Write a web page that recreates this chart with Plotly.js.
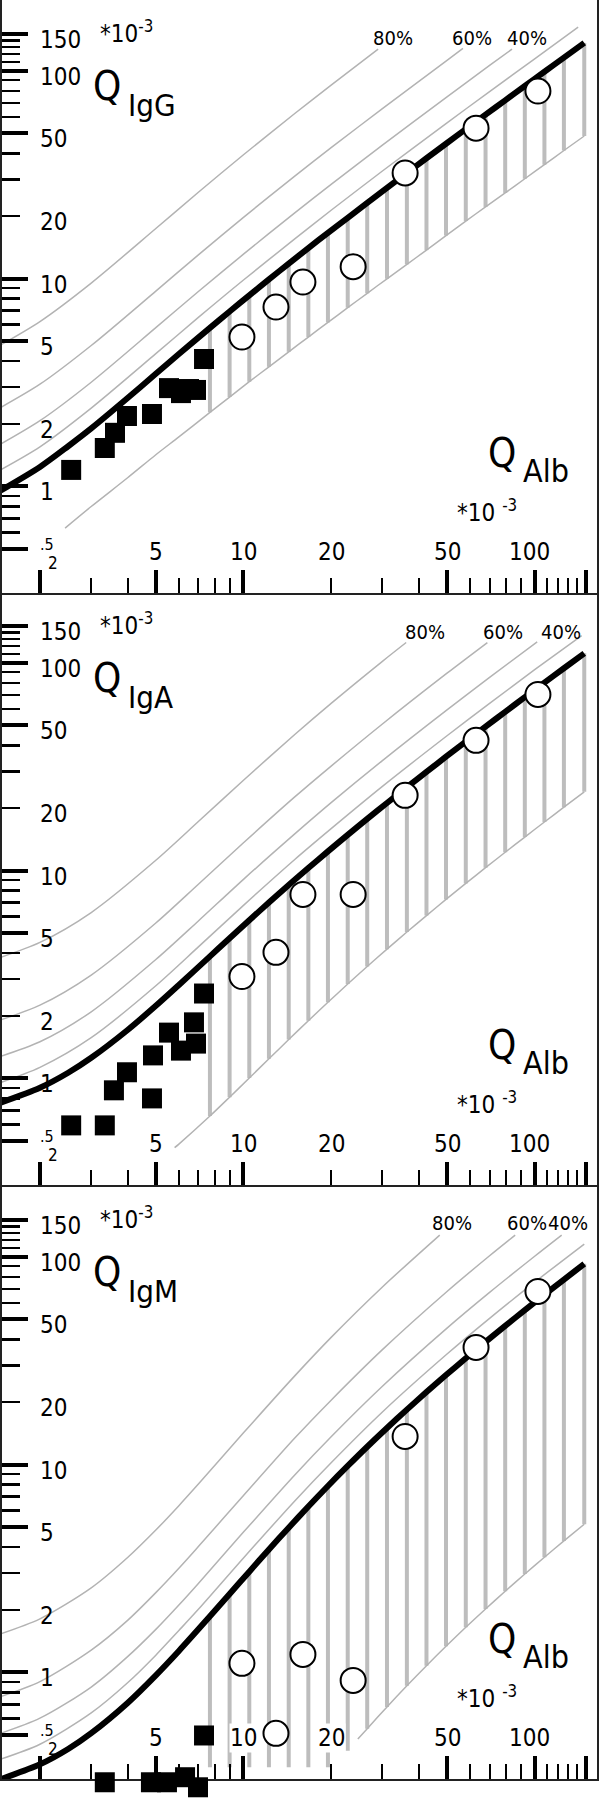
<!DOCTYPE html>
<html lang="en">
<head>
<meta charset="UTF-8">
<title>Reibergram IgG / IgA / IgM</title>
<script src="https://cdn.plot.ly/plotly-3.0.1.min.js"></script>
<style>
  html, body { margin: 0; padding: 0; background: #fff; }
  #graph { width: 600px; height: 1798px; }
</style>
</head>
<body>
<div id="graph"></div>
<script>
// QAlb values (x 10^-3) where the limit curves are read; from index 7 on they are the hatch positions
var qAlb = [1.4, 2, 2.5, 3, 4, 5, 6, 7.67, 8.96, 10.47, 12.23, 14.3, 16.7, 19.5, 22.8, 26.6, 31.1, 36.4, 42.5, 49.6, 58.0, 67.8, 79.2, 92.5, 108, 126, 148];
var hatchFrom = 7;

// ---- IgG ----
var iggLimit = [0.92, 1.24, 1.56, 1.90, 2.66, 3.48, 4.33, 5.79, 6.94, 8.30, 9.90, 11.8, 14.0, 16.6, 19.6, 23.1, 27.3, 32.2, 37.9, 44.5, 52.3, 61.4, 72.0, 84.4, 98.8, 115.5, 136];
var iggLowQ = [2.44, 3, 4, 5, 6, 7.67, 8.96, 10.47, 12.23, 14.3, 16.7, 19.5, 22.8, 26.6, 31.1, 36.4, 42.5, 49.6, 58.0, 67.8, 79.2, 92.5, 108, 126, 148];
var iggLow = [0.63, 0.80, 1.10, 1.42, 1.73, 2.27, 2.69, 3.19, 3.76, 4.44, 5.23, 6.15, 7.24, 8.49, 9.97, 11.7, 13.7, 16.1, 18.9, 22.1, 25.8, 30.2, 35.3, 41.3, 48.5];
var igg80Q = [1.4, 2, 3, 5, 7, 10, 15, 20, 29];
var igg80 = [4.62, 6.21, 9.51, 17.4, 26.0, 39.4, 62.2, 85.2, 127];
var igg60Q = [1.4, 2, 3, 5, 7, 10, 15, 20, 30, 50, 56.7];
var igg60 = [2.31, 3.10, 4.76, 8.70, 13.0, 19.7, 31.1, 42.6, 65.7, 112, 128];
var igg40Q = [1.4, 2, 3, 5, 7, 10, 15, 20, 30, 50, 70, 83.6];
var igg40 = [1.54, 2.07, 3.17, 5.80, 8.66, 13.1, 20.7, 28.4, 43.8, 74.8, 106, 127];
var igg20Q = [1.4, 2, 3, 5, 7, 10, 15, 20, 30, 50, 70, 100, 141];
var igg20 = [1.16, 1.55, 2.38, 4.35, 6.50, 9.84, 15.5, 21.3, 32.9, 56.1, 79.3, 114, 162];

// ---- IgA ----
var igaLimit = [0.747, 0.901, 1.064, 1.256, 1.709, 2.235, 2.815, 3.865, 4.725, 5.767, 7.016, 8.514, 10.28, 12.36, 14.84, 17.71, 21.13, 25.17, 29.83, 35.27, 41.71, 49.24, 58.00, 68.22, 80.14, 93.99, 110.9];
var igaLowQ = [5.8, 6, 7.67, 8.96, 10.47, 12.23, 14.3, 16.7, 19.5, 22.8, 26.6, 31.1, 36.4, 42.5, 49.6, 58.0, 67.8, 79.2, 92.5, 108, 126, 148];
var igaLow = [0.464, 0.483, 0.659, 0.812, 1.004, 1.242, 1.537, 1.894, 2.323, 2.843, 3.453, 4.186, 5.058, 6.071, 7.258, 8.668, 10.32, 12.24, 14.49, 17.12, 20.17, 23.90];
var iga80Q = [1.4, 2, 3, 5, 7, 10, 15, 20, 30, 36.2];
var iga80 = [3.74, 4.51, 6.28, 11.2, 17.2, 27.2, 45.1, 63.7, 101.5, 125];
var iga60Q = [1.4, 2, 3, 5, 7, 10, 15, 20, 30, 50, 68.8];
var iga60 = [1.87, 2.25, 3.14, 5.59, 8.59, 13.6, 22.6, 31.8, 50.7, 89.0, 125];
var iga40Q = [1.4, 2, 3, 5, 7, 10, 15, 20, 30, 50, 70, 102];
var iga40 = [1.25, 1.50, 2.09, 3.73, 5.72, 9.07, 15.0, 21.2, 33.8, 59.3, 84.9, 126];
var iga20Q = [1.4, 2, 3, 5, 7, 10, 15, 20, 30, 50, 70, 100, 145];
var iga20 = [0.934, 1.13, 1.57, 2.79, 4.29, 6.80, 11.3, 15.9, 25.4, 44.5, 63.7, 92.5, 135];

// ---- IgM ----
var igmLimit = [0.299, 0.361, 0.428, 0.510, 0.713, 0.968, 1.268, 1.860, 2.382, 3.052, 3.901, 4.969, 6.281, 7.885, 9.847, 12.18, 14.99, 18.37, 22.31, 26.93, 32.45, 38.92, 46.47, 55.31, 65.63, 77.64, 92.33];
var igmLowQ = [24.7, 26.6, 31.1, 36.4, 42.5, 49.6, 58.0, 67.8, 79.2, 92.5, 108, 126, 148];
var igmLow = [0.478, 0.536, 0.682, 0.862, 1.077, 1.335, 1.648, 2.019, 2.458, 2.974, 3.581, 4.290, 5.160];
var igmHatchLow = [0.35, 0.35, 0.35, 0.35, 0.35, 0.35, 0.35, 0.42, 0.536, 0.682, 0.862, 1.077, 1.335, 1.648, 2.019, 2.458, 2.974, 3.581, 4.290, 5.160];
var igm80Q = [1.4, 2, 3, 4, 5, 6, 7, 10, 15, 20, 30, 47.2];
var igm80 = [1.50, 1.81, 2.55, 3.57, 4.84, 6.34, 8.05, 14.2, 26.7, 40.9, 71.5, 127];
var igm60Q = [1.4, 2, 3, 4, 5, 6, 7, 10, 15, 20, 30, 50, 70, 85.7];
var igm60 = [0.748, 0.903, 1.28, 1.78, 2.42, 3.17, 4.03, 7.09, 13.4, 20.4, 35.7, 68.0, 101, 127];
var igm40Q = [1.4, 2, 3, 4, 5, 6, 7, 10, 15, 20, 30, 50, 70, 100, 123.8];
var igm40 = [0.498, 0.602, 0.850, 1.19, 1.61, 2.11, 2.68, 4.73, 8.91, 13.6, 23.8, 45.3, 67.3, 100.5, 127];
var igm20Q = [1.4, 2, 3, 4, 5, 6, 7, 10, 15, 20, 30, 50, 70, 100, 148];
var igm20 = [0.374, 0.451, 0.638, 0.891, 1.21, 1.59, 2.01, 3.55, 6.68, 10.2, 17.9, 34.0, 50.5, 75.4, 115];

// ---- patients ----
var sqIggQ = [2.56, 3.34, 3.62, 3.98, 4.85, 5.55, 6.10, 6.50, 6.87, 7.32];
var sqIgg = [1.20, 1.53, 1.81, 2.18, 2.23, 2.97, 2.81, 2.94, 2.91, 4.10];
var sqIgaQ = [2.56, 3.34, 3.59, 3.98, 4.85, 4.89, 5.55, 6.10, 6.76, 6.87, 7.32];
var sqIga = [0.594, 0.594, 0.876, 1.07, 0.801, 1.29, 1.66, 1.36, 1.86, 1.47, 2.56];
// IgM below the plotted range hang under the axis line
var sqIgmQ = [3.34, 4.81, 5.46, 6.30, 6.98, 7.32];
var sqIgm = [0.296, 0.296, 0.296, 0.313, 0.280, 0.497];

var circQ = [9.88, 12.93, 16.0, 23.8, 35.9, 62.9, 102.6];
var circIgg = [5.23, 7.29, 9.62, 11.4, 32.2, 52.9, 79.8];
var circIga = [3.09, 4.04, 7.67, 7.67, 23.0, 42.3, 70.3];
var circIgm = [1.105, 0.509, 1.22, 0.915, 13.65, 36.6, 68.0];

// ---- axes ticks / labels ----
var xMajor = [2, 5, 10, 50, 100, 150];
var xMinor = [3, 4, 6, 7, 8, 9, 20, 30, 40, 60, 70, 80, 90, 110, 120, 130, 140];
var yMajor = [0.5, 1, 5, 10, 50, 100, 150];
var yMinor = [0.6, 0.7, 0.8, 0.9, 2, 3, 4, 6, 7, 8, 9, 20, 30, 40, 60, 70, 80, 90, 110, 120, 130, 140];
var yLabels = [150, 100, 50, 20, 10, 5, 2, 1];
var xLabels = [5, 10, 20, 50, 100];
var pctText = ['80%', '60%', '40%'];

var panels = [
  {lim: iggLimit, lowQ: iggLowQ, low: iggLow, hatchLow: iggLow.slice(5),
   pct: [[igg80Q, igg80], [igg60Q, igg60], [igg40Q, igg40], [igg20Q, igg20]],
   sqQ: sqIggQ, sq: sqIgg, circ: circIgg, sub: 'IgG', pctX: [393, 472, 527], pctY: 38},
  {lim: igaLimit, lowQ: igaLowQ, low: igaLow, hatchLow: igaLow.slice(2),
   pct: [[iga80Q, iga80], [iga60Q, iga60], [iga40Q, iga40], [iga20Q, iga20]],
   sqQ: sqIgaQ, sq: sqIga, circ: circIga, sub: 'IgA', pctX: [425, 503, 561], pctY: 40},
  {lim: igmLimit, lowQ: igmLowQ, low: igmLow, hatchLow: igmHatchLow,
   pct: [[igm80Q, igm80], [igm60Q, igm60], [igm40Q, igm40], [igm20Q, igm20]],
   sqQ: sqIgmQ, sq: sqIgm, circ: circIgm, sub: 'IgM', pctX: [452, 527, 568], pctY: 37}
];

var W = 600, H = 1798;
var panelTop = [0, 592, 1186];
var panelH = 593;
var yRange = [-0.513, 2.340];
var pxPerDecade = panelH / (yRange[1] - yRange[0]);
var FONT = 'DejaVu Sans Condensed, DejaVu Sans, sans-serif';
var GRAY = '#b3b3b3';

function py(p, y) { return 1 - (panelTop[p] + y) / H; }

var traces = [];
var annotations = [];
var layout = {
  width: W, height: H,
  margin: {l: 0, r: 0, t: 0, b: 0},
  paper_bgcolor: '#fff', plot_bgcolor: 'rgba(0,0,0,0)',
  showlegend: false,
  font: {family: FONT, color: '#000'}
};

// extra invisible y axis for the last panel, same scale but reaching the page bottom,
// so the squares under the axis line are not dropped
layout.yaxis4 = {
  type: 'log', visible: false, anchor: 'x3',
  domain: [0, py(2, 0)],
  range: [yRange[1] - (H - panelTop[2]) / pxPerDecade, yRange[1]]
};

panels.forEach(function (P, p) {
  var n = p ? String(p + 1) : '';
  var xa = 'x' + n, ya = 'y' + n;

  layout['xaxis' + n] = {
    type: 'log', range: [0.169, 2.214], domain: [0.0025, 0.995], anchor: ya,
    showgrid: false, zeroline: false, showline: true, mirror: p === 0,
    linecolor: '#222', linewidth: 2,
    tickmode: 'array', tickvals: xMajor, ticks: 'inside', ticklen: 23, tickwidth: 4,
    tickcolor: '#000', showticklabels: false,
    minor: {tickmode: 'array', tickvals: xMinor, ticks: 'inside', ticklen: 15, tickwidth: 2,
            tickcolor: '#000', showgrid: false}
  };
  layout['yaxis' + n] = {
    type: 'log', range: yRange, domain: [py(p, panelH), py(p, 0)], anchor: xa,
    showgrid: false, zeroline: false, showline: true, mirror: true,
    linecolor: '#222', linewidth: 2,
    tickmode: 'array', tickvals: yMajor, ticks: 'inside', ticklen: 26, tickwidth: 4,
    tickcolor: '#000', showticklabels: false,
    minor: {tickmode: 'array', tickvals: yMinor, ticks: 'inside', ticklen: 18, tickwidth: 2.5,
            tickcolor: '#000', showgrid: false}
  };

  // hatching between lower and upper limit
  var hx = [], hy = [];
  var hatchHigh = P.lim.slice(hatchFrom);
  for (var k = 0; k < P.hatchLow.length; k++) {
    hx.push(qAlb[hatchFrom + k], qAlb[hatchFrom + k], null);
    hy.push(P.hatchLow[k], hatchHigh[k], null);
  }
  traces.push({x: hx, y: hy, xaxis: xa, yaxis: ya, mode: 'lines', hoverinfo: 'skip',
               line: {color: '#bdbdbd', width: 4}});

  // intrathecal fraction lines (80, 60, 40, 20 %)
  P.pct.forEach(function (c) {
    traces.push({x: c[0], y: c[1], xaxis: xa, yaxis: ya, mode: 'lines',
                 line: {color: GRAY, width: 1.5, shape: 'spline', smoothing: 0.8}});
  });

  // lower limit
  traces.push({x: P.lowQ, y: P.low, xaxis: xa, yaxis: ya, mode: 'lines',
               line: {color: GRAY, width: 1.5, shape: 'spline', smoothing: 0.8}});

  // upper limit (Qlim)
  traces.push({x: qAlb, y: P.lim, xaxis: xa, yaxis: ya, mode: 'lines',
               line: {color: '#000', width: 6, shape: 'spline', smoothing: 0.8}});

  // patients
  traces.push({x: circQ, y: P.circ, xaxis: xa, yaxis: ya, mode: 'markers',
               marker: {symbol: 'circle', size: 25, color: '#fff', line: {color: '#000', width: 2}}});
  traces.push({x: P.sqQ, y: P.sq, xaxis: xa, yaxis: p === 2 ? 'y4' : ya, mode: 'markers',
               cliponaxis: false,
               marker: {symbol: 'square', size: 20, color: '#000', line: {width: 0}}});

  // y tick labels
  yLabels.forEach(function (v) {
    annotations.push({xref: 'paper', yref: ya, x: 38 / W, y: Math.log10(v), xanchor: 'left',
                      yanchor: 'middle', yshift: -6, showarrow: false, text: String(v),
                      font: {size: 24}});
  });
  annotations.push({xref: 'paper', yref: ya, x: 38 / W, y: Math.log10(0.5), xanchor: 'left',
                    yanchor: 'middle', yshift: 4, showarrow: false, text: '.5', font: {size: 16}});

  // x tick labels (white box, the hatching stops at them)
  xLabels.forEach(function (v) {
    annotations.push({xref: xa, yref: 'paper', x: Math.log10(v), y: py(p, 552), xanchor: 'center',
                      yanchor: 'middle', xshift: v === 100 ? -5 : 0, showarrow: false,
                      bgcolor: '#fff', borderpad: 0,
                      text: String(v), font: {size: 24}});
  });
  annotations.push({xref: xa, yref: 'paper', x: Math.log10(2), y: py(p, 563), xanchor: 'center',
                    yanchor: 'middle', xshift: 13, showarrow: false, text: '2', font: {size: 17}});

  // axis titles
  annotations.push({xref: 'paper', yref: 'paper', x: 98 / W, y: py(p, 32), xanchor: 'left',
                    yanchor: 'middle', showarrow: false, text: '*10<sup>-3</sup>', font: {size: 24}});
  annotations.push({xref: 'paper', yref: 'paper', x: 91 / W, y: py(p, 86), xanchor: 'left',
                    yanchor: 'middle', showarrow: false, text: 'Q', font: {size: 40}});
  annotations.push({xref: 'paper', yref: 'paper', x: 126 / W, y: py(p, 105), xanchor: 'left',
                    yanchor: 'middle', showarrow: false, text: P.sub, font: {size: 31}});
  annotations.push({xref: 'paper', yref: 'paper', x: 486 / W, y: py(p, 453), xanchor: 'left',
                    yanchor: 'middle', showarrow: false, text: 'Q', font: {size: 40}});
  annotations.push({xref: 'paper', yref: 'paper', x: 521 / W, y: py(p, 471), xanchor: 'left',
                    yanchor: 'middle', showarrow: false, text: 'Alb', font: {size: 32}});
  annotations.push({xref: 'paper', yref: 'paper', x: 455 / W, y: py(p, 511), xanchor: 'left',
                    yanchor: 'middle', showarrow: false, text: '*10 <sup>-3</sup>', font: {size: 24}});

  // percentage labels
  pctText.forEach(function (t, i) {
    annotations.push({xref: 'paper', yref: 'paper', x: P.pctX[i] / W, y: py(p, P.pctY),
                      xanchor: 'center', yanchor: 'middle', showarrow: false, text: t,
                      font: {size: 20}});
  });
});

layout.annotations = annotations;

Plotly.newPlot('graph', traces, layout, {staticPlot: true, displayModeBar: false});
</script>
</body>
</html>
